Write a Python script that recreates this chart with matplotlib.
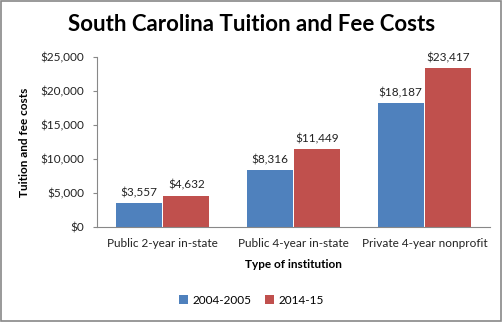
import numpy as np
import matplotlib
matplotlib.use('Agg')
import matplotlib.pyplot as plt
from matplotlib.patches import Rectangle
from matplotlib.ticker import FuncFormatter

plt.rcParams['font.family'] = ['Lato', 'DejaVu Sans']

categories = ['Public 2-year in-state', 'Public 4-year in-state', 'Private 4-year nonprofit']
series_names = ['2004-2005', '2014-15']
costs_2004 = [3557, 8316, 18187]
costs_2014 = [4632, 11449, 23417]
colors = ['#4F81BD', '#C0504D']

fig = plt.figure(figsize=(5.03, 3.22), dpi=100)
ax = fig.add_axes([0.193, 0.295, 0.781, 0.528])

x = np.arange(len(categories))
w = 0.35
gap = 0.007
for vals, off, col, name in [(costs_2004, -w / 2 - gap, colors[0], series_names[0]),
                             (costs_2014, w / 2 + gap, colors[1], series_names[1])]:
    bars = ax.bar(x + off, vals, w, color=col, label=name)
    for b, v in zip(bars, vals):
        ax.text(b.get_x() + b.get_width() / 2, v + 700, f'${v:,}',
                ha='center', va='bottom', fontsize=8.5, color='#222222')

ax.set_xlim(-0.5, 2.5)
ax.set_ylim(0, 25000)
ax.set_yticks(range(0, 25001, 5000))
ax.yaxis.set_major_formatter(FuncFormatter(lambda v, p: f'${int(v):,}'))
ax.set_xticks(x)
ax.set_xticklabels(categories)
ax.tick_params(axis='both', labelsize=8.5, colors='#222222', length=0, pad=8)
ax.tick_params(axis='y', left=True, length=3, color='#888888', direction='out', pad=6)
for s in ['top', 'right']:
    ax.spines[s].set_visible(False)
ax.spines['left'].set_color('#888888')
ax.spines['bottom'].set_color('#888888')

ax.set_xlabel('Type of institution', fontsize=8.5, fontweight='bold', labelpad=7)
ax.set_ylabel('Tuition and fee costs', fontsize=8.5, fontweight='bold', labelpad=8)
fig.text(0.5, 0.925, 'South Carolina Tuition and Fee Costs', ha='center', va='center',
         fontsize=16, fontweight='bold')

ax.legend(loc='center', bbox_to_anchor=(0.5, 0.068), bbox_transform=fig.transFigure,
          ncol=2, frameon=False, fontsize=8.5, handlelength=0.7, handleheight=0.7,
          columnspacing=1.2, handletextpad=0.4)

fig.patches.append(Rectangle((0.002, 0.003), 0.995, 0.993, transform=fig.transFigure,
                             fill=False, edgecolor='#888888', linewidth=1.2))

plt.savefig('out.png', dpi=100)
